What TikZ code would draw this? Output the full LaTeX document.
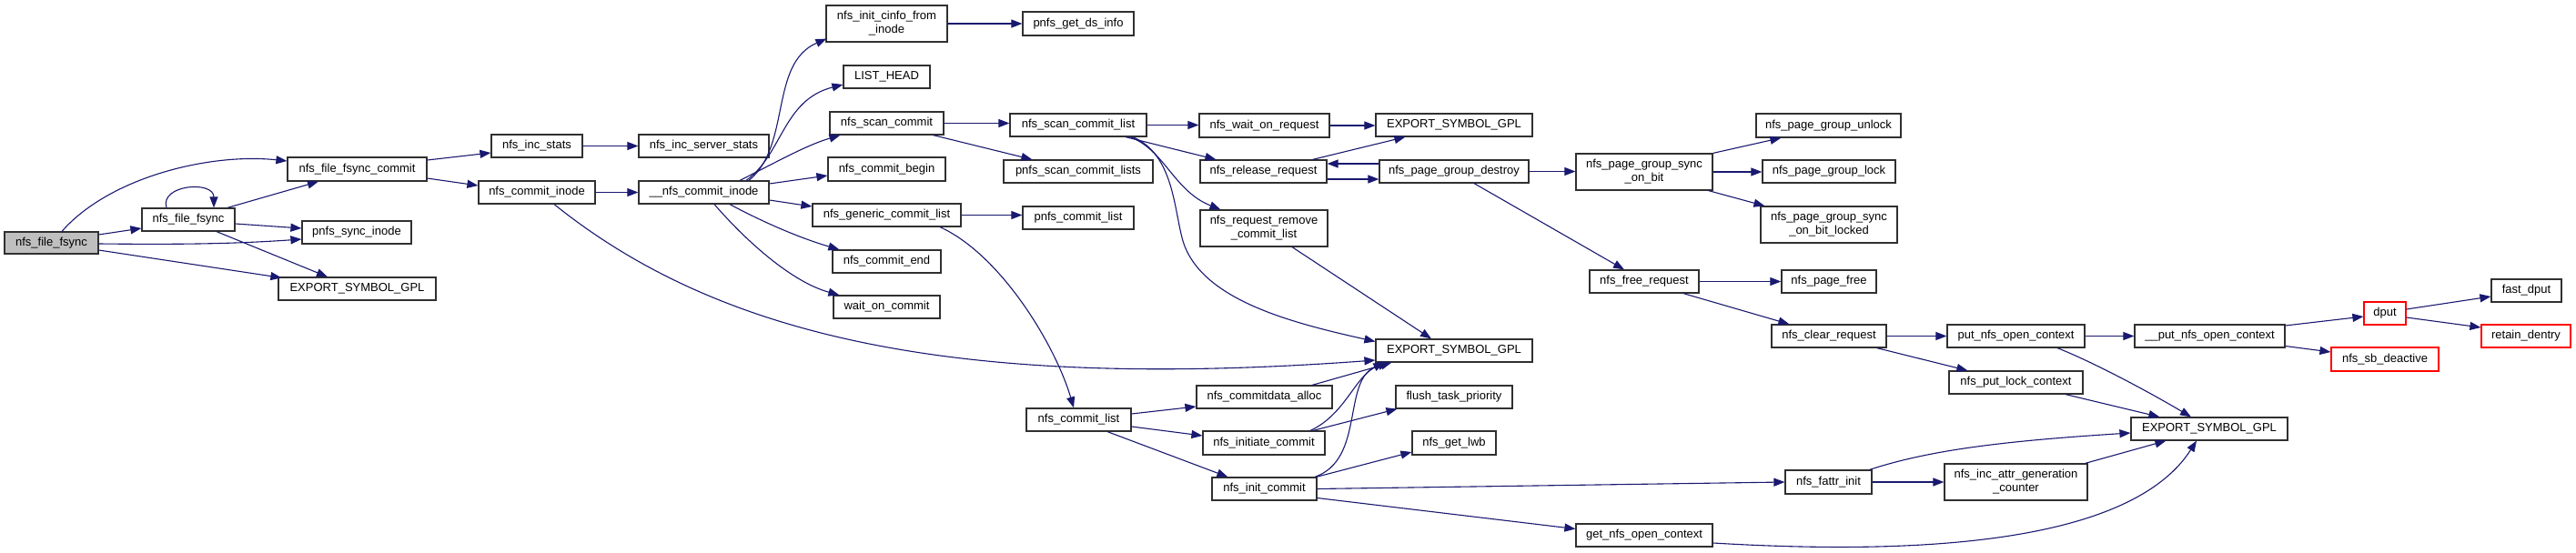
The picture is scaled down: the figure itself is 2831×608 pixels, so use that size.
\documentclass[tikz,border=0pt]{standalone}
\usepackage{fontspec}
\setmainfont{Liberation Sans}
\usetikzlibrary{arrows.meta,calc}
\definecolor{edgeblue}{HTML}{191970}
\definecolor{rootgray}{HTML}{BFBFBF}
\definecolor{boxline}{HTML}{303030}
\begin{document}
\begin{tikzpicture}[x=1bp,y=-1bp,
  box/.style={draw=boxline,line width=1.2bp,fill=white,inner sep=0pt,align=center,
    font=\fontsize{13bp}{15bp}\selectfont,minimum height=25bp},
  tall/.style={minimum height=40bp},
  rootbox/.style={box,fill=rootgray},
  redbox/.style={box,draw=red},
  edge/.style={draw=edgeblue,line width=1.1bp,-{Triangle[length=12bp,width=9bp]}}]
\fill[white] (0,0) rectangle (2831,608);
\useasboundingbox (0,0) rectangle (2831,608);
% nodes
\node[rootbox,minimum width=103bp,minimum height=24bp] (root) at (56.5,267) {nfs\_file\_fsync};
\node[box,minimum width=102bp] (fsync) at (207,241.5) {nfs\_file\_fsync};
\node[box,minimum width=153bp,minimum height=26bp] (fcommit) at (392.5,186) {nfs\_file\_fsync\_commit};
\node[box,minimum width=120bp] (psync) at (392,255.5) {pnfs\_sync\_inode};
\node[box,minimum width=173bp] (exp1) at (392.5,317.5) {EXPORT\_SYMBOL\_GPL};
\node[box,minimum width=100bp] (incstats) at (590,160.5) {nfs\_inc\_stats};
\node[box,minimum width=128bp] (cinode) at (590,211.5) {nfs\_commit\_inode};
\node[box,minimum width=143bp] (incserver) at (773.5,160.5) {nfs\_inc\_server\_stats};
\node[box,minimum width=143bp] (ucinode) at (773.5,211.5) {\_\_nfs\_commit\_inode};
\node[box,tall,minimum width=133bp] (cinfo) at (974.5,26) {nfs\_init\_cinfo\_from\\\_inode};
\node[box,minimum width=122bp,minimum height=26bp] (dsinfo) at (1185,26) {pnfs\_get\_ds\_info};
\node[box,minimum width=95bp] (listhead) at (974.5,84.5) {LIST\_HEAD};
\node[box,minimum width=125bp] (scan) at (974.5,135.5) {nfs\_scan\_commit};
\node[box,minimum width=150bp] (scanlist) at (1185,137.5) {nfs\_scan\_commit\_list};
\node[box,minimum width=129bp,minimum height=26bp] (begin) at (974.5,186) {nfs\_commit\_begin};
\node[box,minimum width=164bp] (pscanlists) at (1185,188.5) {pnfs\_scan\_commit\_lists};
\node[box,minimum width=163bp] (generic) at (974.5,236.5) {nfs\_generic\_commit\_list};
\node[box,minimum width=122bp] (pcommitlist) at (1185,239.5) {pnfs\_commit\_list};
\node[box,minimum width=119bp] (cend) at (974.5,287.5) {nfs\_commit\_end};
\node[box,minimum width=117bp] (waitc) at (974.5,337.5) {wait\_on\_commit};
\node[box,minimum width=143bp,minimum height=26bp] (waitreq) at (1389.5,138) {nfs\_wait\_on\_request};
\node[box,minimum width=172bp] (exp2) at (1598,137.5) {EXPORT\_SYMBOL\_GPL};
\node[box,minimum width=139bp] (release) at (1388.5,188.5) {nfs\_release\_request};
\node[box,minimum width=164bp] (destroy) at (1598,188.5) {nfs\_page\_group\_destroy};
\node[box,tall,minimum width=140bp] (remove) at (1389,251) {nfs\_request\_remove\\\_commit\_list};
\node[box,tall,minimum width=150bp] (syncbit) at (1807,189) {nfs\_page\_group\_sync\\\_on\_bit};
\node[box,minimum width=120bp] (freereq) at (1807,309.5) {nfs\_free\_request};
\node[box,minimum width=172bp] (exp3) at (1598,385.5) {EXPORT\_SYMBOL\_GPL};
\node[box,minimum width=159bp,minimum height=26bp] (unlock) at (2009.5,138) {nfs\_page\_group\_unlock};
\node[box,minimum width=146bp] (lock) at (2010,188.5) {nfs\_page\_group\_lock};
\node[box,tall,minimum width=150bp] (locked) at (2010,247) {nfs\_page\_group\_sync\\\_on\_bit\_locked};
\node[box,minimum width=104bp] (pagefree) at (2010,309.5) {nfs\_page\_free};
\node[box,minimum width=126bp] (clearreq) at (2010,369.5) {nfs\_clear\_request};
\node[box,minimum width=151bp] (putctx) at (2215.5,369.5) {put\_nfs\_open\_context};
\node[box,minimum width=165bp] (uputctx) at (2428.5,369.5) {\_\_put\_nfs\_open\_context};
\node[box,minimum width=147bp] (putlock) at (2215.5,420.5) {nfs\_put\_lock\_context};
\node[box,minimum width=172bp] (exp4) at (2428,471.5) {EXPORT\_SYMBOL\_GPL};
\node[redbox,minimum width=46bp] (dput) at (2621,344.5) {dput};
\node[box,minimum width=77bp] (fastdput) at (2776.5,319.5) {fast\_dput};
\node[redbox,minimum width=98bp] (retain) at (2776,369.5) {retain\_dentry};
\node[redbox,minimum width=118bp,minimum height=26bp] (sbdeact) at (2621,395) {nfs\_sb\_deactive};
\node[box,minimum width=115bp] (commitlist) at (1185.5,461.5) {nfs\_commit\_list};
\node[box,minimum width=149bp] (cdalloc) at (1389.5,436.5) {nfs\_commitdata\_alloc};
\node[box,minimum width=134bp,minimum height=26bp] (initiate) at (1389,487) {nfs\_initiate\_commit};
\node[box,minimum width=115bp] (initcommit) at (1389.5,537.5) {nfs\_init\_commit};
\node[box,minimum width=128bp] (flush) at (1598,436.5) {flush\_task\_priority};
\node[box,minimum width=92bp,minimum height=26bp] (lwb) at (1598,487) {nfs\_get\_lwb};
\node[box,minimum width=150bp] (getctx) at (1807,588.5) {get\_nfs\_open\_context};
\node[box,minimum width=95bp,minimum height=26bp] (fattr) at (2009.5,530) {nfs\_fattr\_init};
\node[box,tall,minimum width=157bp] (incattr) at (2215.5,530) {nfs\_inc\_attr\_generation\\\_counter};
% edges
\draw[edge] ($(root.north)+(11.5,0)$) .. controls (120,195) and (230,168) .. ($(fcommit.west)+(0,-9)$);
\draw[edge] ($(root.east)+(0,-9)$) -- ($(fsync.west)+(0,9.5)$);
\draw[edge] ($(root.east)+(0,1)$) .. controls (200,269) and (260,268) .. ($(psync.west)+(0,7.5)$);
\draw[edge] ($(root.east)+(0,8)$) -- ($(exp1.north west)+(4,1)$);
\draw[edge] ($(fsync.north)+(-24,0)$) .. controls (175,203) and (235,198) .. ($(fsync.north)+(28,0)$);
\draw[edge] ($(fsync.north)+(43,0)$) -- ($(fcommit.south)+(-42.5,0)$);
\draw[edge] ($(fsync.east)+(0,4.5)$) -- ($(psync.west)+(0,-4.5)$);
\draw[edge] ($(fsync.south)+(31,0)$) -- ($(exp1.north)+(-32.5,0)$);
\draw[edge] ($(fcommit.east)+(0,-10)$) -- ($(incstats.west)+(0,7.5)$);
\draw[edge] ($(fcommit.east)+(0,10)$) -- ($(cinode.west)+(0,-7.5)$);
\draw[edge] (incstats.east) -- (incserver.west);
\draw[edge] (cinode.east) -- (ucinode.west);
\draw[edge] ($(cinode.south)+(19,0)$) .. controls (790,370) and (1050,430) .. ($(exp3.west)+(0,10.5)$);
\draw[edge] ($(ucinode.north)+(49.5,0)$) .. controls (870,160) and (845,70) .. ($(cinfo.south west)+(1,-4)$);
\draw[edge] ($(ucinode.north)+(46.5,0)$) .. controls (860,170) and (860,110) .. ($(listhead.west)+(0,8.5)$);
\draw[edge] ($(ucinode.north)+(39.5,0)$) .. controls (850,180) and (885,160) .. ($(scan.south west)+(12,0)$);
\draw[edge] ($(ucinode.east)+(0,-9.5)$) -- ($(begin.west)+(0,7)$);
\draw[edge] ($(ucinode.east)+(0,8.5)$) -- ($(generic.west)+(0,-9.5)$);
\draw[edge] ($(ucinode.south)+(28.5,0)$) .. controls (840,245) and (880,262) .. ($(cend.north west)+(8,0)$);
\draw[edge] ($(ucinode.south)+(11.5,0)$) .. controls (820,265) and (870,310) .. ($(waitc.north west)+(7,0)$);
\draw[edge] (cinfo.east) -- (dsinfo.west);
\draw[edge] (scan.east) -- (scan.east -| scanlist.west);
\draw[edge] ($(scan.south east)+(-12,0)$) -- ($(pscanlists.north west)+(32,0)$);
\draw[edge] (scanlist.east) -- (scanlist.east -| waitreq.west);
\draw[edge] ($(scanlist.south)+(52,0)$) -- ($(release.north west)+(18,0)$);
\draw[edge] ($(scanlist.south)+(57,0)$) .. controls (1280,165) and (1290,210) .. ($(remove.north west)+(23,0)$);
\draw[edge] ($(scanlist.south)+(60,0)$) .. controls (1290,170) and (1290,230) .. (1300,265) .. controls (1320,330) and (1420,355) .. ($(exp3.west)+(0,-10)$);
\draw[edge] (generic.east) -- (generic.east -| pcommitlist.west);
\draw[edge] ($(generic.south)+(58.5,0)$) .. controls (1100,280) and (1160,380) .. ($(commitlist.north)+(-5.5,0)$);
\draw[edge] (waitreq.east) -- (waitreq.east -| exp2.west);
\draw[edge] ($(release.north east)+(-16,0)$) -- ($(exp2.south west)+(33,0)$);
\draw[edge] ($(release.east)+(0,8.5)$) -- ($(destroy.west)+(0,8.5)$);
\draw[edge] ($(destroy.west)+(0,-8.5)$) -- ($(release.east)+(0,-8.5)$);
\draw[edge] (destroy.east) -- (destroy.east -| syncbit.west);
\draw[edge] ($(destroy.south)+(22,0)$) -- ($(freereq.north)+(-22,0)$);
\draw[edge] ($(remove.south)+(31,0)$) -- ($(exp3.north)+(-25,0)$);
\draw[edge] (syncbit.north east) -- ($(unlock.south west)+(28,0)$);
\draw[edge] (syncbit.east) -- (syncbit.east -| lock.west);
\draw[edge] ($(syncbit.south east)+(-5,0)$) -- ($(locked.north west)+(5,0)$);
\draw[edge] (freereq.east) -- (pagefree.west);
\draw[edge] ($(freereq.south)+(43,0)$) -- ($(clearreq.north west)+(20,0)$);
\draw[edge] (clearreq.east) -- (putctx.west);
\draw[edge] ($(clearreq.south east)+(-11,0)$) -- ($(putlock.north west)+(21,0)$);
\draw[edge] (putctx.east) -- (uputctx.west);
\draw[edge] ($(putctx.south)+(45.5,0)$) .. controls (2300,398) and (2360,430) .. ($(exp4.north)+(-20,0)$);
\draw[edge] ($(putlock.south)+(54.5,0)$) -- ($(exp4.north west)+(32,0)$);
\draw[edge] ($(uputctx.east)+(0,-11.5)$) -- ($(dput.west)+(0,3.5)$);
\draw[edge] ($(uputctx.east)+(0,11)$) -- ($(sbdeact.west)+(0,-8)$);
\draw[edge] ($(dput.east)+(0,-4.5)$) -- ($(fastdput.west)+(0,6.5)$);
\draw[edge] ($(dput.east)+(0,4.5)$) -- ($(retain.west)+(0,-9.5)$);
\draw[edge] ($(commitlist.east)+(0,-6.5)$) -- ($(cdalloc.west)+(0,10.5)$);
\draw[edge] ($(commitlist.east)+(0,7.5)$) -- ($(initiate.west)+(0,-8)$);
\draw[edge] ($(commitlist.south)+(31.5,0)$) -- ($(initcommit.north west)+(18,0)$);
\draw[edge] ($(cdalloc.north)+(52.5,0)$) -- ($(exp3.south west)+(18,0)$);
\draw[edge] ($(initiate.north)+(51,0)$) .. controls (1480,455) and (1490,410) .. ($(exp3.south west)+(15,0)$);
\draw[edge] ($(initiate.north)+(54,0)$) -- ($(flush.south west)+(2,0)$);
\draw[edge] ($(initcommit.north)+(55.5,0)$) .. controls (1500,505) and (1475,420) .. ($(exp3.south west)+(10,0)$);
\draw[edge] ($(initcommit.north east)+(-1,0)$) -- ($(lwb.west)+(0,10)$);
\draw[edge] (initcommit.east) -- (fattr.west);
\draw[edge] ($(initcommit.east)+(0,10)$) -- ($(getctx.west)+(0,-7)$);
\draw[edge] ($(fattr.north east)+(-3,0)$) .. controls (2120,495) and (2200,485) .. ($(exp4.west)+(0,4.5)$);
\draw[edge] (fattr.east) -- (incattr.west);
\draw[edge] ($(incattr.north east)+(-3,0)$) -- ($(exp4.south west)+(39,0)$);
\draw[edge] ($(getctx.east)+(0,8.5)$) .. controls (2100,610) and (2340,600) .. ($(exp4.south)+(-14,0)$);
\end{tikzpicture}
\end{document}
